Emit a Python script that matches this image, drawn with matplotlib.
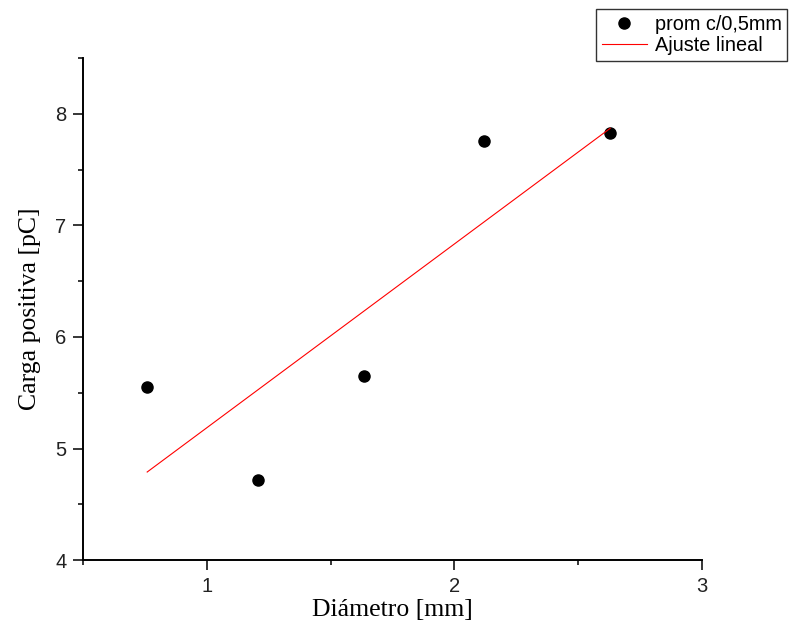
import numpy as np
import matplotlib
matplotlib.use("Agg")
import matplotlib.pyplot as plt
from matplotlib.ticker import MultipleLocator

# datos medidos (diametro en mm, carga en pC)
diametro = [0.759, 1.207, 1.635, 2.120, 2.629]
carga = [5.55, 4.72, 5.65, 7.76, 7.83]

# recta de ajuste lineal (extremos)
ajuste_x = [0.759, 2.629]
ajuste_y = [4.79, 7.87]

fig = plt.figure(figsize=(7.91, 6.28), dpi=100)
ax = fig.add_axes([0.105, 0.108, 0.7825, 0.7996])

ax.plot(diametro, carga, 'o', color='black', markersize=8, label='prom c/0,5mm')
ax.plot(ajuste_x, ajuste_y, '-', color='red', linewidth=0.8, label='Ajuste lineal')

ax.set_xlim(0.5, 3)
ax.set_ylim(4, 8.5)
ax.xaxis.set_major_locator(MultipleLocator(1))
ax.xaxis.set_minor_locator(MultipleLocator(0.5))
ax.yaxis.set_major_locator(MultipleLocator(1))
ax.yaxis.set_minor_locator(MultipleLocator(0.5))

for s in ['top', 'right']:
    ax.spines[s].set_visible(False)
for s in ['left', 'bottom']:
    ax.spines[s].set_linewidth(1.4)

ax.tick_params(which='major', direction='out', length=7, width=1.1,
               labelsize=14.5, pad=5)
ax.tick_params(which='minor', direction='out', length=3.5, width=1.1)
for lab in ax.get_xticklabels() + ax.get_yticklabels():
    lab.set_fontfamily('Liberation Sans')
    lab.set_color('#222222')

ax.set_xlabel('Diámetro [mm]', fontfamily='Liberation Serif', fontsize=18.5, labelpad=2)
ax.set_ylabel('Carga positiva [pC]', fontfamily='Liberation Serif', fontsize=18.5, labelpad=10)

leg = fig.legend(loc='upper left', bbox_to_anchor=(596 / 791, 1 - 9 / 628),
                 bbox_transform=fig.transFigure, frameon=True, fancybox=False,
                 prop={'family': 'Liberation Sans', 'size': 14.3},
                 handlelength=2.25, handletextpad=0.4, borderpad=0.3,
                 labelspacing=0.1, borderaxespad=0)
leg.get_frame().set_edgecolor('black')
leg.get_frame().set_linewidth(1.0)

fig.savefig('out.png', dpi=100)
